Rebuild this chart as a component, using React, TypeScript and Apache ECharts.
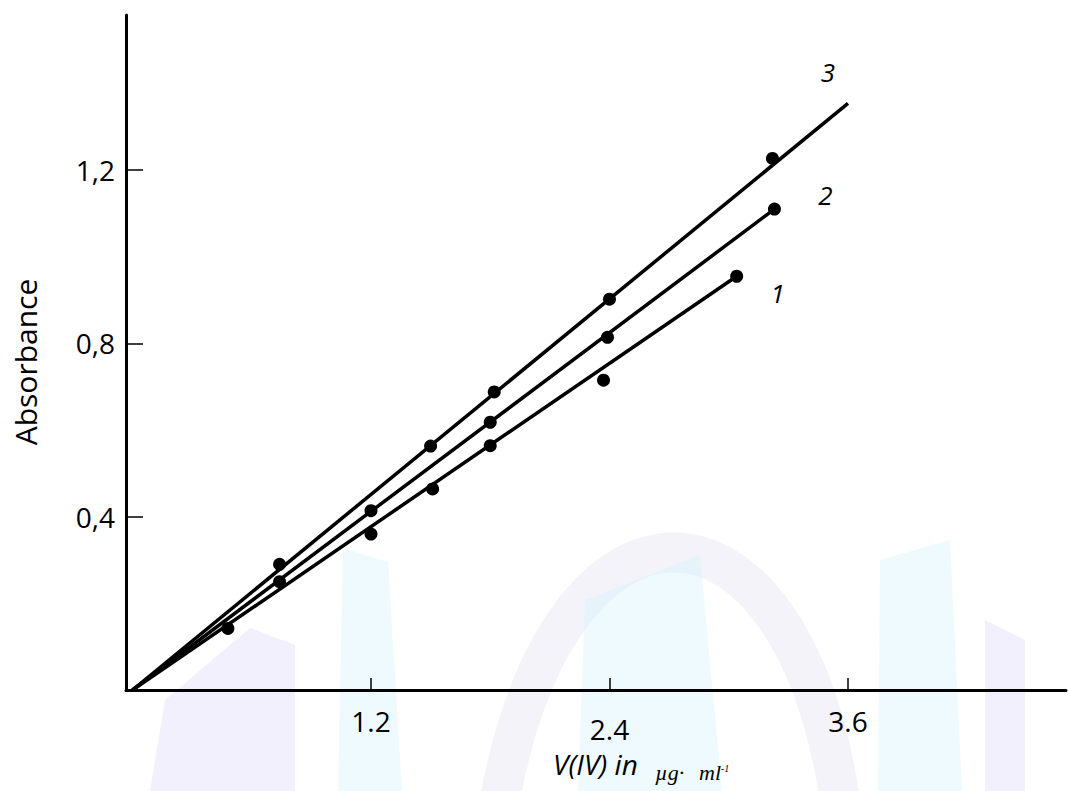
import React, { useEffect, useRef } from "react";
import * as echarts from "echarts";

// Measured points (x: V(IV) µg/ml, y: absorbance)
const x1 = [0.48, 1.2, 1.51, 1.8, 2.37, 3.04];
const y1 = [0.142, 0.36, 0.464, 0.564, 0.715, 0.955];
const x2 = [0.74, 1.2, 1.8, 2.39, 3.23];
const y2 = [0.25, 0.414, 0.618, 0.814, 1.11];
const x3 = [0.74, 1.5, 1.82, 2.4, 3.22];
const y3 = [0.29, 0.563, 0.688, 0.902, 1.227];

// Fitted calibration lines (start, end)
const fit1 = [[0, 0], [3.04, 0.955]];
const fit2 = [[0, 0], [3.23, 1.11]];
const fit3 = [[0, 0], [3.6, 1.354]];

const xTicks = [1.2, 2.4, 3.6];
const yTicks = [0.4, 0.8, 1.2];
const lineNames = ["1", "2", "3"];

const FONT = "'Open Sans', 'Noto Sans', sans-serif";
const SERIF = "'Liberation Serif', 'DejaVu Serif', serif";

function zipPts(xs: number[], ys: number[]) {
  return xs.map((x, i) => [x, ys[i]]);
}

export default function App() {
  const ref = useRef<HTMLDivElement>(null);
  useEffect(() => {
    if (!ref.current) return;
    const chart = echarts.init(ref.current, undefined, { renderer: "svg" });
    const lavender = "#dcdaf8";
    const cyan = "#d4f3fc";
    const wmOpacity = 0.4;
    const lineStyle = { color: "#000", width: 3.5 };
    const endLbl = (txt: string, off: number[]) => ({
      show: true,
      formatter: txt,
      offset: off,
      distance: 0,
      align: "center",
      verticalAlign: "middle",
      fontStyle: "italic",
      fontSize: 26,
      fontFamily: FONT,
      color: "#000",
    });
    const dot = { symbolSize: 13, itemStyle: { color: "#000", opacity: 1 }, z: 4 };
    chart.setOption({
      animation: false,
      backgroundColor: "#fff",
      grid: { left: 126, right: 2, top: 15, bottom: 101 },
      xAxis: {
        type: "value",
        min: -0.0327,
        max: 4.697,
        splitLine: { show: false },
        axisLine: { show: true, onZero: false, lineStyle: { color: "#000", width: 3 } },
        axisTick: {
          show: true,
          inside: true,
          length: 12,
          customValues: xTicks,
          lineStyle: { color: "#000", width: 1.5 },
        },
        axisLabel: {
          customValues: xTicks,
          margin: 17,
          fontSize: 28,
          fontFamily: FONT,
          color: "#000",
          formatter: (v: number) => (Math.abs(v - 2.4) < 1e-6 ? "{low|2.4}" : "{n|" + v.toFixed(1) + "}"),
          rich: {
            n: { fontSize: 28, fontFamily: FONT, color: "#000" },
            low: { fontSize: 28, fontFamily: FONT, color: "#000", padding: [8, 0, 0, 0] },
          },
        },
      },
      yAxis: {
        type: "value",
        min: 0,
        max: 1.558,
        splitLine: { show: false },
        axisLine: { show: true, onZero: false, lineStyle: { color: "#000", width: 3 } },
        axisTick: {
          show: true,
          inside: true,
          length: 17,
          customValues: yTicks,
          lineStyle: { color: "#000", width: 1.5 },
        },
        axisLabel: {
          customValues: yTicks,
          margin: 11,
          fontSize: 28,
          fontFamily: FONT,
          color: "#000",
          formatter: (v: number) => v.toFixed(1).replace(".", ","),
        },
      },
      graphic: [
        // faint watermark shapes
        { type: "polygon", z: -10, silent: true, shape: { points: [[150, 791], [165, 700], [250, 628], [295, 645], [295, 791]] }, style: { fill: lavender, opacity: wmOpacity } },
        { type: "polygon", z: -10, silent: true, shape: { points: [[343, 548], [388, 562], [402, 791], [338, 791]] }, style: { fill: cyan, opacity: wmOpacity } },
        { type: "bezierCurve", z: -10, silent: true, shape: { x1: 500, y1: 800, cpx1: 560, cpy1: 470, cpx2: 790, cpy2: 470, x2: 840, y2: 800 }, style: { stroke: "#e3e2f2", lineWidth: 40, fill: null, opacity: wmOpacity } },
        { type: "polygon", z: -10, silent: true, shape: { points: [[585, 600], [700, 555], [722, 791], [578, 791]] }, style: { fill: cyan, opacity: wmOpacity } },
        { type: "polygon", z: -10, silent: true, shape: { points: [[880, 560], [950, 540], [962, 791], [878, 791]] }, style: { fill: cyan, opacity: wmOpacity } },
        { type: "polygon", z: -10, silent: true, shape: { points: [[985, 620], [1025, 640], [1025, 791], [985, 791]] }, style: { fill: lavender, opacity: wmOpacity } },
        // y-axis title
        {
          type: "text",
          x: 25,
          y: 362,
          rotation: Math.PI / 2,
          style: { text: "Absorbance", fontSize: 30, fontFamily: FONT, fill: "#000", align: "center", verticalAlign: "middle" },
        },
        // x-axis title
        {
          type: "text",
          left: 553,
          top: 750,
          style: { text: "V(IV) in", fontSize: 28, fontStyle: "italic", fontFamily: FONT, fill: "#000" },
        },
        {
          type: "text",
          left: 655,
          top: 761,
          style: { text: "µg·", fontSize: 22, fontStyle: "italic", fontFamily: SERIF, fill: "#000" },
        },
        {
          type: "text",
          left: 699,
          top: 761,
          style: { text: "ml", fontSize: 22, fontStyle: "italic", fontFamily: SERIF, fill: "#000" },
        },
        {
          type: "text",
          left: 721,
          top: 763,
          style: { text: "-1", fontSize: 10, fontStyle: "italic", fontFamily: SERIF, fill: "#000" },
        },
      ],
      series: [
        { type: "line", data: fit1, symbol: "none", lineStyle, z: 3, endLabel: endLbl(lineNames[0], [41, 17]) },
        { type: "line", data: fit2, symbol: "none", lineStyle, z: 3, endLabel: endLbl(lineNames[1], [51, -14]) },
        { type: "line", data: fit3, symbol: "none", lineStyle, z: 3, endLabel: endLbl(lineNames[2], [-20, -31]) },
        { type: "scatter", data: zipPts(x1, y1), ...dot },
        { type: "scatter", data: zipPts(x2, y2), ...dot },
        { type: "scatter", data: zipPts(x3, y3), ...dot },
      ],
    });
    return () => chart.dispose();
  }, []);
  return <div ref={ref} style={{ width: 1068, height: 791, position: "absolute", left: 0, top: 0 }} />;
}
